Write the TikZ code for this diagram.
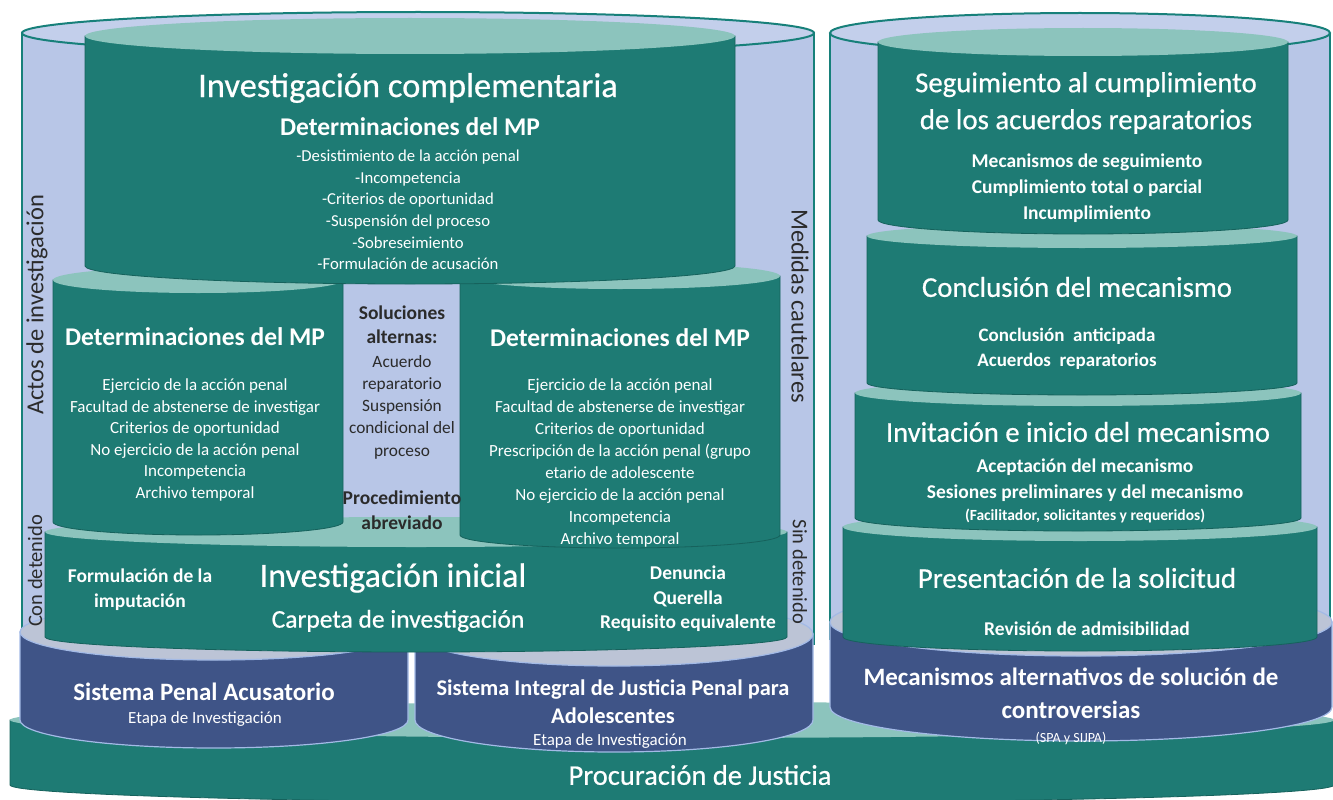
\documentclass[tikz,border=0pt]{standalone}
\usepackage{fontspec}
\setmainfont{Carlito}
\newfontfamily\headfont{Carlito}[FakeBold=0.6]
\usepackage{tikz}
\usepackage{xcolor}

\definecolor{tealbody}{HTML}{1E7B74}
\definecolor{tealedge}{HTML}{16625C}
\definecolor{tealtop}{HTML}{8CC4BD}
\definecolor{bluebody}{HTML}{3F5487}
\definecolor{bluetop}{HTML}{BCC4D6}
\definecolor{blueedge}{HTML}{A3BAE6}
\definecolor{lavender}{HTML}{B8C6E7}
\definecolor{rimteal}{HTML}{17807A}
\definecolor{labelgray}{HTML}{2B2B2B}

% #1 centre x, #2 top y, #3 bottom y, #4 x radius, #5 y radius, #6 body style, #7 top style
\newcommand{\drum}[7]{%
  \path[#6] (#1-#4,#2) -- (#1-#4,#3)
    arc[start angle=180,end angle=0,x radius=#4,y radius=#5] -- (#1+#4,#2) -- cycle;
  \path[#7] (#1,#2) ellipse[x radius=#4,y radius=#5];
}
% open container: #1 centre x, #2 top y, #3 bottom y, #4 x radius, #5 y radius
\newcommand{\tub}[5]{%
  \fill[lavender] (#1-#4,#2) rectangle (#1+#4,#3);
  \draw[rimteal, line width=2pt] (#1-#4,#3) -- (#1-#4,#2) (#1+#4,#2) -- (#1+#4,#3);
  \filldraw[fill=lavender!85!white, draw=rimteal, line width=2pt] (#1,#2) ellipse[x radius=#4,y radius=#5];
}

\tikzset{
  tealcyl/.style={fill=tealbody, draw=tealedge, line width=0.8pt},
  tealface/.style={fill=tealtop},
  bluecyl/.style={fill=bluebody, draw=blueedge, line width=1.2pt},
  blueface/.style={fill=bluetop, draw=blueedge, line width=1.2pt},
  txt/.style={text=white, align=center, inner sep=0pt},
  dark/.style={text=labelgray, align=center, inner sep=0pt},
}

\begin{document}
\begin{tikzpicture}[x=1pt, y=-1pt]
  \useasboundingbox (0,0) rectangle (1333,800);
  \clip (0,0) rectangle (1333,800);

  % Base
  \drum{672}{720}{785}{662}{18}{tealcyl}{tealface}

  % Containers
  \tub{418}{33}{645}{396}{21}
  \tub{1080}{33}{640}{250}{20}

  % Systems
  \drum{214}{632}{720}{194}{28}{bluecyl}{blueface}
  \drum{614}{634}{720}{199}{32}{bluecyl}{blueface}
  \drum{1081}{622}{707}{251}{34}{bluecyl}{blueface}

  % Investigation stack
  \drum{416}{532}{637}{371}{15}{tealcyl}{tealface}
  \drum{198}{280}{522}{145}{13}{tealcyl}{tealface}
  \drum{620}{276}{535}{160}{13}{tealcyl}{tealface}
  \drum{410}{36}{266}{325}{18}{tealcyl}{tealface}

  % Mechanism stack
  \drum{1080}{527}{637}{237}{14}{tealcyl}{tealface}
  \drum{1078}{393}{518}{223}{13}{tealcyl}{tealface}
  \drum{1082}{236}{383}{215}{12}{tealcyl}{tealface}
  \drum{1083}{42}{220}{205}{14}{tealcyl}{tealface}

  % Labels
  \node[txt, font=\headfont\fontsize{34.5}{38}\selectfont] (ictitle) at (408,88) {Investigación complementaria};
  \node[txt, font=\fontsize{25.5}{28}\selectfont\bfseries] (icsub) at (410,127) {Determinaciones del MP};
  \node[txt, font=\fontsize{16.7}{21.6}\selectfont] (iclist) at (408,210) {-Desistimiento de la acción penal\\-Incompetencia\\-Criterios de oportunidad\\-Suspensión del proceso\\-Sobreseimiento\\-Formulación de acusación};

  \node[txt, font=\fontsize{25.5}{28}\selectfont\bfseries] (lmtitle) at (195,337) {Determinaciones del MP};
  \node[txt, font=\fontsize{17}{21.6}\selectfont] (lmlist) at (195,440) {Ejercicio de la acción penal\\Facultad de abstenerse de investigar\\Criterios de oportunidad\\No ejercicio de la acción penal\\Incompetencia\\Archivo temporal};

  \node[txt, font=\fontsize{25.5}{28}\selectfont\bfseries] (rmtitle) at (620,338) {Determinaciones del MP};
  \node[txt, font=\fontsize{17}{22.1}\selectfont] (rmlist) at (620,463) {Ejercicio de la acción penal\\Facultad de abstenerse de investigar\\Criterios de oportunidad\\Prescripción de la acción penal (grupo\\etario de adolescente\\No ejercicio de la acción penal\\Incompetencia\\Archivo temporal};

  \node[dark, font=\fontsize{19.5}{24}\selectfont\bfseries] (soltitle) at (402,325) {Soluciones\\alternas:};
  \node[dark, font=\fontsize{17.3}{22.2}\selectfont] (sollist) at (402,407) {Acuerdo\\reparatorio\\Suspensión\\condicional del\\proceso};
  \node[dark, font=\fontsize{19.5}{25}\selectfont\bfseries] (abrev) at (402,510) {Procedimiento\\abreviado};

  \node[txt, font=\headfont\fontsize{34}{38}\selectfont] (iititle) at (393,578) {Investigación inicial};
  \node[txt, font=\headfont\fontsize{25.5}{28}\selectfont] (iisub) at (398,621) {Carpeta de investigación};
  \node[txt, font=\fontsize{19.5}{25}\selectfont\bfseries] (iileft) at (140,590) {Formulación de la\\imputación};
  \node[txt, font=\fontsize{19.5}{24.5}\selectfont\bfseries] (iiright) at (688,599) {Denuncia\\Querella\\Requisito equivalente};

  \node[txt, font=\fontsize{25}{28}\selectfont\bfseries] (spatitle) at (204,692) {Sistema Penal Acusatorio};
  \node[txt, font=\fontsize{17}{19}\selectfont] (spasub) at (205,719) {Etapa de Investigación};
  \node[txt, font=\fontsize{22.4}{28}\selectfont\bfseries] (sijtitle) at (613,702) {Sistema Integral de Justicia Penal para\\Adolescentes};
  \node[txt, font=\fontsize{17}{19}\selectfont] (sijsub) at (610,741) {Etapa de Investigación};
  \node[txt, font=\fontsize{25}{33}\selectfont\bfseries] (masctitle) at (1071,693) {Mecanismos alternativos de solución de\\controversias};
  \node[txt, font=\fontsize{14}{16}\selectfont] (mascsub) at (1071,738) {(SPA y SIJPA)};

  \node[txt, font=\headfont\fontsize{28.5}{32}\selectfont] (pj) at (700,775) {Procuración de Justicia};

  \node[txt, font=\headfont\fontsize{28.8}{37}\selectfont] (segtitle) at (1086,103) {Seguimiento al cumplimiento\\de los acuerdos reparatorios};
  \node[txt, font=\fontsize{19.5}{26}\selectfont\bfseries] (seglist) at (1087,188) {Mecanismos de seguimiento\\Cumplimiento total o parcial\\Incumplimiento};
  \node[txt, font=\headfont\fontsize{28.7}{32}\selectfont] (conctitle) at (1077,287) {Conclusión del mecanismo};
  \node[txt, font=\fontsize{19}{25}\selectfont\bfseries] (conclist) at (1067,349) {Conclusión\ \ anticipada\\Acuerdos\ \ reparatorios};
  \node[txt, font=\headfont\fontsize{28.6}{32}\selectfont] (invtitle) at (1078,432) {Invitación e inicio del mecanismo};
  \node[txt, font=\fontsize{19.5}{26}\selectfont\bfseries] (invlist) at (1085,480) {Aceptación del mecanismo\\Sesiones preliminares y del mecanismo};
  \node[txt, font=\fontsize{15.5}{17}\selectfont\bfseries] (invnote) at (1085,516) {(Facilitador, solicitantes y requeridos)};
  \node[txt, font=\headfont\fontsize{28.7}{32}\selectfont] (prestitle) at (1077,578) {Presentación de la solicitud};
  \node[txt, font=\fontsize{19.5}{22}\selectfont\bfseries] (preslist) at (1087,629) {Revisión de admisibilidad};

  \node[dark, rotate=90, font=\fontsize{24.5}{27}\selectfont] (actos) at (37,305) {Actos de investigación};
  \node[dark, rotate=90, font=\fontsize{20.5}{23}\selectfont] (condet) at (35,571) {Con detenido};
  \node[dark, rotate=-90, font=\fontsize{24.5}{27}\selectfont] (medidas) at (800,306) {Medidas cautelares};
  \node[dark, rotate=-90, font=\fontsize{20.5}{23}\selectfont] (sindet) at (800,572) {Sin detenido};
\end{tikzpicture}
\end{document}
